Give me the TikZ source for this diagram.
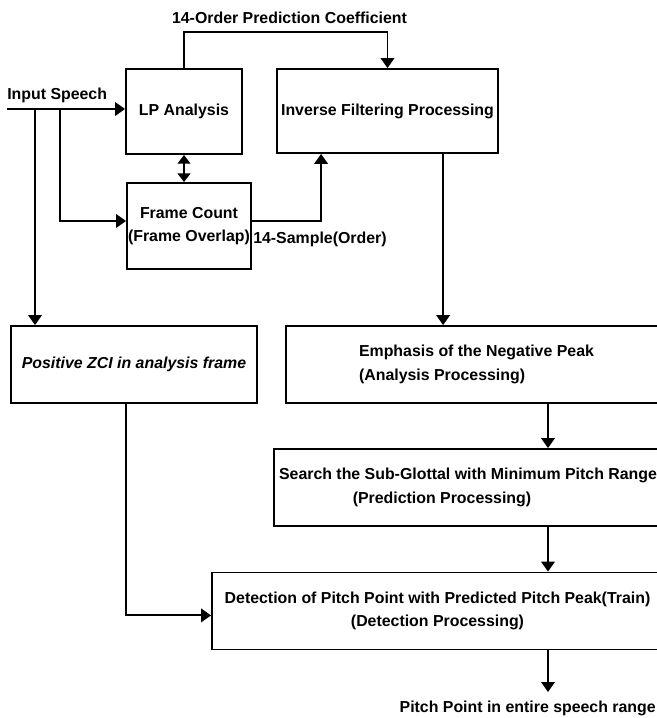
\documentclass[tikz,border=0pt]{standalone}
\usepackage{fontspec}
\setmainfont{Liberation Sans}
\usetikzlibrary{arrows.meta, positioning, calc}

\begin{document}
\begin{tikzpicture}[x=0.025cm, y=-0.025cm,
    box/.style={draw, line width=1.3pt, inner sep=0pt, align=center,
                font=\bfseries\fontsize{11.3}{16.5}\selectfont},
    lbl/.style={inner sep=0pt, font=\bfseries\fontsize{11.3}{13}\selectfont},
    arrow/.style={-{Triangle[length=0.25cm, width=0.34cm]}, line width=1.3pt},
    twoway/.style={{Triangle[length=0.22cm, width=0.32cm]}-{Triangle[length=0.22cm, width=0.32cm]}, line width=1.3pt}]
                \useasboundingbox (0,0) rectangle (657,718);

                % Upper blocks
                \node[box, minimum width=2.9cm, minimum height=2.125cm] (lp) at (184,111.5) {LP Analysis};
                \node[box, minimum width=3.1cm, minimum height=2.15cm] (fc) at (189,226) {Frame Count\\(Frame Overlap)};
                \node[box, minimum width=5.525cm, minimum height=2.1cm] (inv) at (387.5,111) {Inverse Filtering Processing};

                % Middle blocks (right ones run past the page edge)
                \node[box, minimum width=6.15cm, minimum height=1.925cm, font=\bfseries\itshape\fontsize{11.3}{16.5}\selectfont] (zci) at (134,364.5) {Positive ZCI in analysis frame};
                \node[box, minimum width=9.525cm, minimum height=1.925cm, align=left] (emph) at (476.5,364.5) {Emphasis of the Negative Peak\\(Analysis Processing)};
                \node[box, minimum width=9.7cm, minimum height=1.925cm] (srch) at (468,487.5) {Search the Sub-Glottal with Minimum Pitch Range\\(Prediction Processing)\hspace*{1.3cm}};
                \node[box, minimum width=11.275cm, minimum height=1.925cm] (det) at (437.5,611) {Detection of Pitch Point with Predicted Pitch Peak(Train)\\(Detection Processing)};

                % Input speech and its branches
                \coordinate (in) at (7,109);
                \coordinate (b1) at (35,109);
                \coordinate (b2) at (60,109);
                \node[lbl, above right=0.16cm and 0cm of in] (inlbl) {Input Speech};
                \draw[arrow] (in) -- (in -| lp.west);
                \draw[arrow] (b1) -- (b1 |- zci.north);
                \draw[arrow] (b2) |- ([yshift=0.125cm]fc.west);
                \draw[twoway] (lp.south) -- (lp.south |- fc.north);

                % Coefficients and samples into the inverse filter
                \draw[arrow] (lp.north) -- ++(0,-36) -| (inv.north);
                \node[lbl] (coef) at (289.5,18) {14-Order Prediction Coefficient};
                \draw[arrow] ([yshift=0.125cm]fc.east) -| ([xshift=-1.66cm]inv.south);
                \node[lbl, anchor=west] (smp) at (253,239) {14-Sample(Order)};

                % Right chain
                \coordinate (spine) at (548,0);
                \draw[arrow] ([xshift=1.39cm]inv.south) -- ([xshift=1.39cm]inv.south |- emph.north);
                \draw[arrow] (emph.south -| spine) -- (srch.north -| spine);
                \draw[arrow] (srch.south -| spine) -- (det.north -| spine);
                \draw[arrow] ([xshift=-0.2cm]zci.south) |- ([yshift=-0.11cm]det.west);

                % Output
                \coordinate (out) at (548,692);
                \draw[arrow] (det.south -| spine) -- (out);
                \node[lbl, anchor=east] (res) at (656,708) {Pitch Point in entire speech range};
\end{tikzpicture}
\end{document}
